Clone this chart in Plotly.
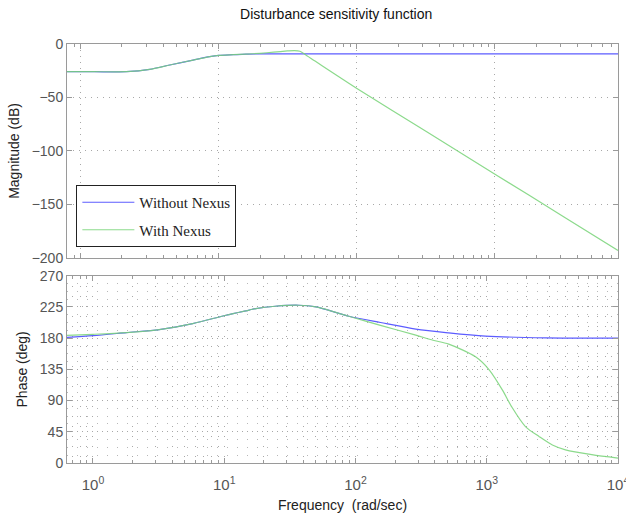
import plotly.graph_objects as go

# ---------------- data ----------------
# Magnitude plot (rad/sec, dB)
mag_freq_blue = [0.794, 1.26, 2.15, 3.18, 4.44, 6.55, 8.65, 10.05, 12.8, 15.8, 20.0, 25.1, 50.0, 100.0, 1000.0, 7834.0]
mag_blue = [-25.9, -25.9, -25.9, -23.7, -19.6, -15.0, -11.8, -10.6, -10.0, -9.5, -9.3, -9.2, -9.2, -9.2, -9.2, -9.2]

mag_freq_green = [0.794, 1.26, 2.15, 3.18, 4.44, 6.55, 8.65, 10.05, 12.8, 15.8, 20.0, 25.1, 31.6, 35.5, 38.9,
                  42.2, 50.1, 63.1, 79.4, 100.0, 316.0, 1000.0, 3162.0, 7834.0]
mag_green = [-25.9, -25.9, -25.9, -23.7, -19.6, -15.0, -11.8, -10.6, -10.0, -9.5, -8.7, -7.6, -6.5, -6.1, -6.8,
             -9.5, -16.0, -24.5, -33.0, -41.4, -81.4, -121.4, -161.4, -193.0]

# Phase plot (rad/sec, deg)
ph_freq_blue = [0.631, 1.0, 1.80, 3.2, 5.75, 10.3, 15.5, 17.4, 24.5, 37.0, 50.0, 89.0, 155.0, 288.0, 513.0,
                977.0, 2818.0, 10000.0]
ph_blue = [181.0, 183.5, 188.0, 192.4, 201.0, 213.0, 220.5, 222.6, 226.0, 227.4, 225.0, 211.5, 202.5, 193.0, 187.6,
           183.0, 180.4, 180.0]

ph_freq_green = [0.631, 1.0, 1.80, 3.2, 5.75, 10.3, 15.5, 17.4, 24.5, 37.0, 50.0, 89.0, 155.0, 288.0, 390.0,
                 513.0, 822.0, 1047.0, 1318.0, 1549.0, 1972.0, 2512.0, 3162.0, 3981.0, 6310.0, 10000.0]
ph_green = [184.0, 185.5, 188.0, 192.4, 201.0, 213.0, 220.5, 222.6, 226.0, 227.4, 225.0, 211.5, 198.5, 184.3, 177.0,
            171.3, 153.0, 134.0, 105.0, 81.0, 52.5, 38.0, 26.0, 19.0, 12.0, 7.0]

mag_ticks = [-200, -150, -100, -50, 0]
phase_ticks = [0, 45, 90, 135, 180, 225, 270]
freq_ticks = [1, 10, 100, 1000, 10000]
freq_ticktext = ["10<sup>0</sup>", "10<sup>1</sup>", "10<sup>2</sup>", "10<sup>3</sup>", "10<sup>4</sup>"]

BLUE = "#5c5cff"
GREEN = "#78d478"

minor_freq = [m * 10 ** d for d in range(-1, 4) for m in range(2, 10)]
minor_phase = [i * 11.25 for i in range(25)]

fig = go.Figure()
fig.add_trace(go.Scatter(x=mag_freq_blue, y=mag_blue, mode="lines", name="Without Nexus",
                         line=dict(color=BLUE, width=1.2, shape="spline", smoothing=0.8),
                         xaxis="x", yaxis="y", legendgroup="a"))
fig.add_trace(go.Scatter(x=mag_freq_green, y=mag_green, mode="lines", name="With Nexus",
                         line=dict(color=GREEN, width=1.2, shape="spline", smoothing=0.6),
                         opacity=0.85, xaxis="x", yaxis="y", legendgroup="b"))
fig.add_trace(go.Scatter(x=ph_freq_blue, y=ph_blue, mode="lines", name="Without Nexus",
                         line=dict(color=BLUE, width=1.2, shape="spline", smoothing=0.8),
                         xaxis="x2", yaxis="y2", showlegend=False))
fig.add_trace(go.Scatter(x=ph_freq_green, y=ph_green, mode="lines", name="With Nexus",
                         line=dict(color=GREEN, width=1.2, shape="spline", smoothing=0.8),
                         opacity=0.85, xaxis="x2", yaxis="y2", showlegend=False))

FRAME = "#9a9a9a"
GRID = "#a8a8a8"
MAJOR_DASH = "1px,5px"
MINOR_DASH = "1px,9px"
TICKFONT = dict(family="Liberation Sans, Arial, sans-serif", size=14, color="#555555")
TITLEFONT = dict(family="Liberation Sans, Arial, sans-serif", size=14, color="#222222")

common_axis = dict(showline=True, linecolor=FRAME, linewidth=1, mirror="ticks", ticks="inside",
                   tickcolor=FRAME, ticklen=5, zeroline=False, tickfont=TICKFONT)

fig.update_layout(
    width=626, height=515,
    margin=dict(l=67, r=8, t=44, b=52, autoexpand=False),
    paper_bgcolor="white", plot_bgcolor="white",
    font=dict(family="Liberation Sans, Arial, sans-serif", color="#222222"),
    title=dict(text="Disturbance sensitivity function", x=0.537, xanchor="center",
               y=1 - 14 / 515, yref="container", yanchor="middle",
               font=dict(family="Liberation Sans, Arial, sans-serif", size=14, color="#111111")),
    xaxis=dict(common_axis, type="log", range=[-0.097, 3.894], domain=[0, 1], anchor="y",
               tickmode="array", tickvals=freq_ticks[:4], showticklabels=False,
               showgrid=True, gridcolor=GRID, griddash=MAJOR_DASH,
               minor=dict(tickmode="array", tickvals=minor_freq, ticks="inside", ticklen=3,
                          tickcolor=FRAME, showgrid=False)),
    yaxis=dict(common_axis, range=[-200, 0], domain=[0.4893, 1], anchor="x",
               tickmode="array", tickvals=mag_ticks,
               showgrid=True, gridcolor=GRID, griddash=MAJOR_DASH,
               title=dict(text="Magnitude (dB)", font=TITLEFONT, standoff=8)),
    xaxis2=dict(common_axis, type="log", range=[-0.198, 4.0], domain=[0, 1], anchor="y2",
                tickmode="array", tickvals=freq_ticks, ticktext=freq_ticktext,
                tickfont=dict(TICKFONT, size=15), ticklabelstandoff=8, ticklabeloverflow="allow",
                showgrid=True, gridcolor=GRID, griddash=MINOR_DASH,
                minor=dict(tickmode="array", tickvals=minor_freq, ticks="inside", ticklen=3,
                           tickcolor=FRAME, showgrid=True, gridcolor=GRID, griddash=MINOR_DASH),
                title=dict(text="Frequency\u00a0 (rad/sec)", font=TITLEFONT, standoff=8)),
    yaxis2=dict(common_axis, range=[0, 270], domain=[0, 0.447], anchor="x2",
                tickmode="array", tickvals=phase_ticks,
                showgrid=True, gridcolor=GRID, griddash="1px,4px",
                minor=dict(tickmode="array", tickvals=minor_phase, ticks="", showgrid=True,
                           gridcolor="#b8b8b8", griddash=MINOR_DASH),
                title=dict(text="Phase (deg)", font=TITLEFONT, standoff=8)),
    showlegend=True,
    legend=dict(x=0.017, y=0.6635, xanchor="left", yanchor="top",
                bgcolor="white", bordercolor="#222222", borderwidth=1,
                font=dict(family="Liberation Serif, Times New Roman, serif", size=15, color="#222222"),
                itemwidth=52, traceorder="grouped", tracegroupgap=5),
)

fig.write_html("out.html")
